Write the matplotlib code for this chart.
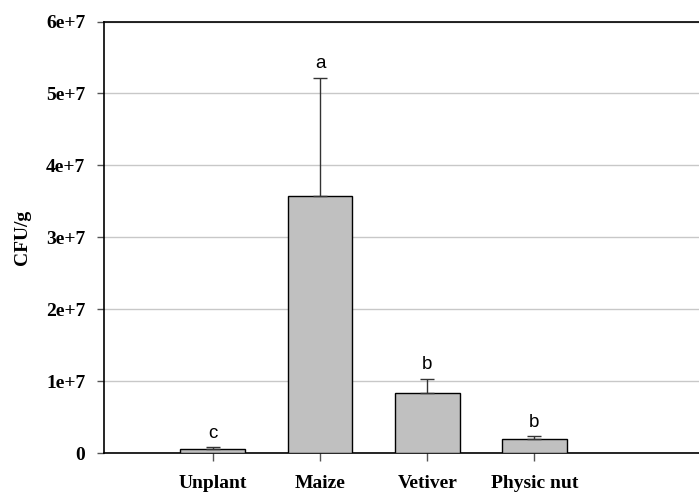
import matplotlib
matplotlib.use("Agg")
import matplotlib.pyplot as plt
import numpy as np

# Colony counts per treatment
categories = ["Unplant", "Maize", "Vetiver", "Physic nut"]
cfu_mean = [5.0e5, 3.57e7, 8.3e6, 1.95e6]
cfu_err = [3.0e5, 1.65e7, 2.0e6, 4.0e5]
letters = ["c", "a", "b", "b"]
yticks = [0, 1e7, 2e7, 3e7, 4e7, 5e7, 6e7]
ytick_labels = ["0", "1e+7", "2e+7", "3e+7", "4e+7", "5e+7", "6e+7"]

serif_bold = dict(family="Liberation Serif", weight="bold")

fig = plt.figure(figsize=(6.99, 4.93), dpi=100)
ax = fig.add_axes([104 / 699, 1 - 453 / 493, 1 - 104 / 699 + 0.01, (453 - 21.5) / 493])

x = np.arange(len(categories))
ax.bar(x, cfu_mean, width=0.605, color="#c0c0c0", edgecolor="black", linewidth=1.0, zorder=3)
ax.errorbar(x, cfu_mean, yerr=[np.zeros(len(cfu_err)), cfu_err], fmt="none",
            ecolor="#333333", elinewidth=1.0, capsize=4.7, capthick=1.0, zorder=4)

for xi, m, e, lab in zip(x, cfu_mean, cfu_err, letters):
    ax.annotate(lab, (xi, m + e), xytext=(0, 4), textcoords="offset points",
                ha="center", va="bottom", fontsize=13.5, family="Liberation Sans")

ax.set_xlim(-1.015, 4.6)
ax.set_ylim(0, 6e7)
ax.set_yticks(yticks)
ax.set_yticklabels(ytick_labels, fontsize=14, **serif_bold)
ax.set_xticks(x)
ax.set_xticklabels(categories, fontsize=14, **serif_bold)
ax.tick_params(axis="y", direction="out", length=5, color="#555555", width=1, pad=8.5)
ax.tick_params(axis="x", direction="out", length=6, color="#555555", width=1, pad=10)

ax.yaxis.grid(True, color="#c8c8c8", linewidth=1.0, zorder=0)
ax.set_axisbelow(True)

for side in ["left", "top", "bottom"]:
    ax.spines[side].set_color("black")
    ax.spines[side].set_linewidth(1.2)
ax.spines["right"].set_visible(False)

ax.set_ylabel("CFU/g", fontsize=14, labelpad=11, **serif_bold)

fig.savefig("out.png", dpi=100)
